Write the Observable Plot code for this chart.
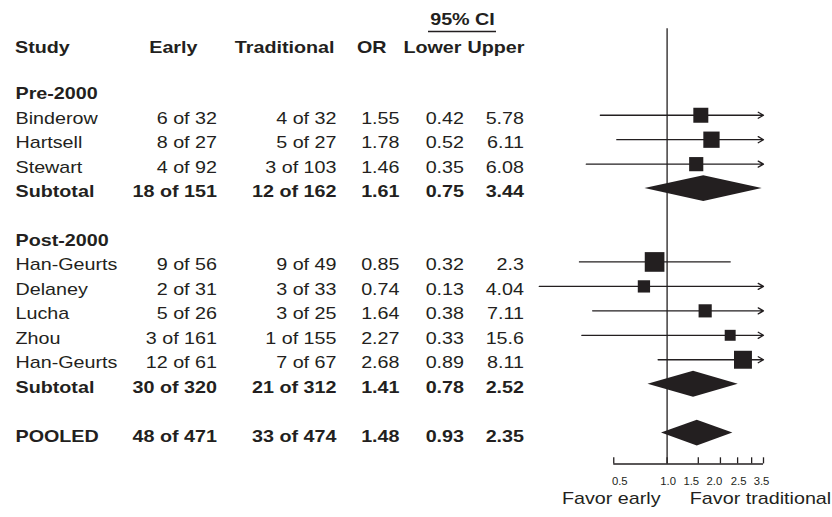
<!DOCTYPE html>
<html><head><meta charset="utf-8">
<script src="https://cdn.jsdelivr.net/npm/d3@7"></script>
<script src="https://cdn.jsdelivr.net/npm/@observablehq/plot@0.6"></script>
<style>html,body{margin:0;padding:0;background:#fff}#chart{width:832px;height:517px}</style>
</head><body><div id="chart"></div>
<script>
// ---------- data ----------
const groups = ["Pre-2000", "Post-2000"];
const studies = ["Binderow", "Hartsell", "Stewart", "Han-Geurts", "Delaney", "Lucha", "Zhou", "Han-Geurts"];
const studyGroup = [0, 0, 0, 1, 1, 1, 1, 1];
const earlyEvents = [6, 8, 4, 9, 2, 5, 3, 12];
const earlyTotal = [32, 27, 92, 56, 31, 26, 161, 61];
const tradEvents = [4, 5, 3, 9, 3, 3, 1, 7];
const tradTotal = [32, 27, 103, 49, 33, 25, 155, 67];
const oddsRatio = [1.55, 1.78, 1.46, 0.85, 0.74, 1.64, 2.27, 2.68];
const ciLower = [0.42, 0.52, 0.35, 0.32, 0.13, 0.38, 0.33, 0.89];
const ciUpper = [5.78, 6.11, 6.08, 2.3, 4.04, 7.11, 15.6, 8.11];
const weight = [12.2, 14.4, 10.9, 21.0, 8.2, 9.4, 6.5, 17.5]; // estimated from square areas

const summaryLabels = ["Subtotal", "Subtotal", "POOLED"];
const sumEarlyEvents = [18, 30, 48];
const sumEarlyTotal = [151, 320, 471];
const sumTradEvents = [12, 21, 33];
const sumTradTotal = [162, 312, 474];
const sumOR = [1.61, 1.41, 1.48];
const sumLower = [0.75, 0.78, 0.93];
const sumUpper = [3.44, 2.52, 2.35];

const headers = ["Study", "Early", "Traditional", "OR", "Lower", "Upper"];
const ciHeader = "95% CI";
const axisTicks = [0.5, 1, 1.5, 2, 2.5, 3, 3.5];
const axisTickLabels = ["0.5", "1.0", "1.5", "2.0", "2.5", "", "3.5"];
const favorLabels = ["Favor early", "Favor traditional"];

// ---------- layout (row units) ----------
const INK = "#231f20";
const FONT = "'Liberation Sans', Arial, Helvetica, sans-serif";
const rowCI = -2.90, rowCIline = -2.425, rowHeader = -1.75, rowRefTop = -2.54;
const rowAxis = 15.26, tickLen = 0.25, rowTickLab = 15.99, rowFavor = 16.69;
const diamondHalf = 0.53;
const clipLo = 0.19, clipHi = 3.5;

// ---------- build table ----------
const rows = [];
let r = 0;
const sumRow = (k, row) => ({
  row, kind: "summary", label: summaryLabels[k],
  early: `${sumEarlyEvents[k]} of ${sumEarlyTotal[k]}`,
  trad: `${sumTradEvents[k]} of ${sumTradTotal[k]}`,
  or: sumOR[k], lower: sumLower[k], upper: sumUpper[k]
});
groups.forEach((g, gi) => {
  rows.push({row: r++, kind: "group", label: g});
  studies.forEach((s, i) => {
    if (studyGroup[i] !== gi) return;
    rows.push({
      row: r++, kind: "study", label: s,
      early: `${earlyEvents[i]} of ${earlyTotal[i]}`,
      trad: `${tradEvents[i]} of ${tradTotal[i]}`,
      or: oddsRatio[i], lower: ciLower[i], upper: ciUpper[i], weight: weight[i]
    });
  });
  rows.push(sumRow(gi, r++));
  r++;
});
rows.push(sumRow(2, r));

const studyRows = rows.filter(d => d.kind === "study");
const boldRows = rows.filter(d => d.kind !== "study");
const summaryRows = rows.filter(d => d.kind === "summary");
const diamondPts = summaryRows.flatMap((d, k) => [
  {id: k, x: d.lower, y1: d.row, y2: d.row},
  {id: k, x: d.or, y1: d.row - diamondHalf, y2: d.row + diamondHalf},
  {id: k, x: d.upper, y1: d.row, y2: d.row}
]);

const cols = [
  {key: d => d.label, dx: 15, anchor: "start"},
  {key: d => d.early, dx: 216.5, anchor: "end"},
  {key: d => d.trad, dx: 336, anchor: "end"},
  {key: d => d.or == null ? "" : String(d.or), dx: 399, anchor: "end"},
  {key: d => d.lower == null ? "" : String(d.lower), dx: 463.5, anchor: "end"},
  {key: d => d.upper == null ? "" : String(d.upper), dx: 523.5, anchor: "end"}
];
const headerPos = [
  {dx: 14.5, anchor: "start"}, {dx: 197, anchor: "end"}, {dx: 334, anchor: "end"},
  {dx: 386, anchor: "end"}, {dx: 461, anchor: "end"}, {dx: 524, anchor: "end"}
];
const tickLabelShift = [6, 1, -7, -6, 1, 0, -2];

const tableMarks = [];
cols.forEach(c => {
  tableMarks.push(Plot.text(studyRows, {y: "row", text: c.key, frameAnchor: "left", dx: c.dx, dy: 3,
    textAnchor: c.anchor, fontSize: 17, fill: INK}));
  tableMarks.push(Plot.text(boldRows, {y: "row", text: c.key, frameAnchor: "left", dx: c.dx, dy: 3,
    textAnchor: c.anchor, fontSize: 17, fontWeight: "bold", fill: INK}));
});
headers.forEach((h, i) => {
  tableMarks.push(Plot.text([h], {y: () => rowHeader, text: d => d, frameAnchor: "left", dx: headerPos[i].dx,
    textAnchor: headerPos[i].anchor, fontSize: 17, fontWeight: "bold", fill: INK}));
});
tableMarks.push(Plot.text([ciHeader], {y: () => rowCI, text: d => d, frameAnchor: "left", dx: 462,
  textAnchor: "middle", fontSize: 17, fontWeight: "bold", fill: INK}));
tableMarks.push(Plot.ruleY([rowCIline], {y: d => d, insetLeft: 428, insetRight: 832 - 496, stroke: INK, strokeWidth: 1.3}));

const axisMarks = [
  Plot.ruleY([{y: rowAxis, x1: axisTicks[0], x2: axisTicks[axisTicks.length - 1]}],
    {y: "y", x1: "x1", x2: "x2", stroke: INK, strokeWidth: 1.5}),
  Plot.ruleX(axisTicks, {x: d => d, y1: () => rowAxis, y2: () => rowAxis - tickLen, stroke: INK, strokeWidth: 1.3}),
  ...axisTicks.map((t, i) => Plot.text([t], {x: d => d, y: () => rowTickLab, text: () => axisTickLabels[i],
    dx: tickLabelShift[i], fontSize: 11.3, fill: INK})),
  Plot.text([axisTicks[0]], {x: d => d, y: () => rowFavor, text: () => favorLabels[0], dx: -2.5, fontSize: 17, fill: INK}),
  Plot.text([axisTicks[axisTicks.length - 1]], {x: d => d, y: () => rowFavor, text: () => favorLabels[1], dx: -3, fontSize: 17, fill: INK})
];

const plot = Plot.plot({
  width: 832, height: 517,
  marginLeft: 0, marginRight: 0, marginTop: 0, marginBottom: 0,
  x: {type: "log", domain: [clipLo, clipHi], range: [538.8, 763], clamp: true, axis: null},
  y: {domain: [0, 14], range: [90.3, 432.6], axis: null},
  r: {type: "sqrt", domain: [0, 21], range: [0, 11.1]},
  style: {fontFamily: FONT, color: INK, background: "white"},
  marks: [
    Plot.ruleX([1], {x: d => d, y1: () => rowRefTop, y2: () => rowAxis, stroke: INK, strokeWidth: 1.3}),
    Plot.ruleY(studyRows.filter(d => d.upper <= clipHi), {y: "row", x1: "lower", x2: "upper", stroke: INK, strokeWidth: 1.3}),
    Plot.arrow(studyRows.filter(d => d.upper > clipHi), {x1: "lower", x2: "upper", y1: "row", y2: "row",
      stroke: INK, strokeWidth: 1.3, headLength: 7, headAngle: 60}),
    Plot.dot(studyRows, {x: "or", y: "row", r: "weight", symbol: "square", fill: INK, stroke: "none"}),
    Plot.areaY(diamondPts, {x: "x", y1: "y1", y2: "y2", z: "id", fill: INK, curve: "linear"}),
    ...tableMarks,
    ...axisMarks
  ]
});

document.getElementById("chart").appendChild(plot);
// horizontal stretch of the large text to match the reference typeface width
plot.querySelectorAll('g[font-size="17"] text').forEach(t => {
  const L = t.getComputedTextLength();
  if (L > 0) {
    t.setAttribute("textLength", (L * 1.16).toFixed(2));
    t.setAttribute("lengthAdjust", "spacingAndGlyphs");
  }
});
</script>
</body></html>
